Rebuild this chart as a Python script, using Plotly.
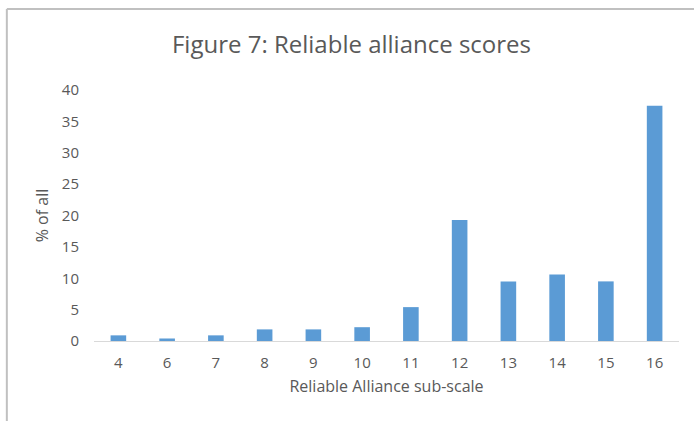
import plotly.graph_objects as go

# Reliable Alliance sub-scale scores and share of respondents (%)
scores = ["4", "6", "7", "8", "9", "10", "11", "12", "13", "14", "15", "16"]
percent_of_all = [0.9, 0.4, 0.9, 1.85, 1.85, 2.2, 5.4, 19.3, 9.5, 10.6, 9.5, 37.5]
y_ticks = [0, 5, 10, 15, 20, 25, 30, 35, 40]

BAR_BLUE = "#5b9bd5"
TEXT_GREY = "#595959"
FONT = "Open Sans, sans-serif"

fig = go.Figure(
    go.Bar(
        x=scores,
        y=percent_of_all,
        marker=dict(color=BAR_BLUE, line=dict(width=0)),
        hovertemplate="%{x}: %{y}%<extra></extra>",
    )
)

fig.update_layout(
    width=694,
    height=421,
    margin=dict(l=94, r=15, t=90, b=80),
    paper_bgcolor="white",
    plot_bgcolor="white",
    bargap=0.68,
    showlegend=False,
    title=dict(
        text="Figure 7: Reliable alliance scores",
        x=0.5065,
        xanchor="center",
        y=0.893,
        yanchor="middle",
        font=dict(family=FONT, size=24, color=TEXT_GREY),
    ),
    font=dict(family=FONT, color=TEXT_GREY),
    xaxis=dict(
        type="category",
        showline=True,
        linecolor="#d9d9d9",
        linewidth=1,
        ticks="",
        ticklabelstandoff=8,
        tickfont=dict(size=15, color=TEXT_GREY),
        title=dict(
            text="Reliable Alliance sub-scale",
            font=dict(size=16, color=TEXT_GREY),
            standoff=9,
        ),
    ),
    yaxis=dict(
        range=[0, 40],
        tickvals=y_ticks,
        showgrid=False,
        zeroline=False,
        showline=False,
        ticks="",
        ticklabelstandoff=14,
        tickfont=dict(size=15, color=TEXT_GREY),
        title=dict(
            text="% of all",
            font=dict(size=16, color=TEXT_GREY),
            standoff=9,
        ),
    ),
    shapes=[
        # chart frame: top and left edges
        dict(type="line", xref="paper", yref="paper",
             x0=-0.149, x1=1.1, y0=1.323, y1=1.323,
             line=dict(color="#c0c0c0", width=2)),
        dict(type="line", xref="paper", yref="paper",
             x0=-0.149, x1=-0.149, y0=1.323, y1=-0.4,
             line=dict(color="#c0c0c0", width=2)),
    ],
)

fig.write_html("out.html")
